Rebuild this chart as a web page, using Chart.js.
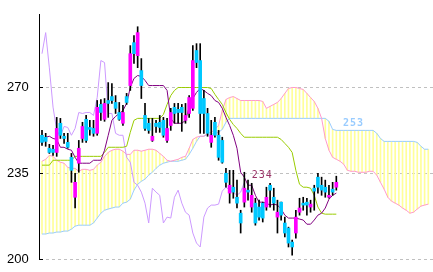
<!DOCTYPE html>
<html lang="en">
<head>
<meta charset="UTF-8">
<title>Ichimoku Chart</title>
<script src="https://cdn.jsdelivr.net/npm/chart.js"></script>
<style>
    body { margin: 0; background: #fff; }
    #wrap { width: 433px; height: 272px; }
</style>
</head>
<body>
<div id="wrap"><canvas id="chart" width="433" height="272"></canvas></div>
<script>
// candles, one per period (0..80)
const opens = [
    250.5, 249.7, 245.2, 244.8, 243.5, 255.4, 250.1, 247.6, 241.5, 225.2,
    239.1, 249.2, 257.0, 253.7, 253.3, 251.3, 263.1, 257.0, 264.7, 266.3,
    263.9, 259.8, 255.4, 266.3, 270.8, 288.3, 283.0, 276.9, 258.6, 255.4,
    248.4, 255.4, 255.8, 256.6, 248.4, 254.5, 261.9, 261.1, 261.9, 256.6,
    259.4, 261.5, 285.1, 281.0, 265.5, 259.4, 247.6, 255.8, 250.5, 248.4,
    235.0, 226.9, 229.3, 225.2, 218.7, 223.2, 228.1, 221.2, 222.8, 221.2,
    222.8, 221.2, 230.1, 225.2, 217.1, 223.2, 214.7, 212.6, 206.9, 210.6,
    219.1, 222.8, 223.2, 221.2, 228.9, 233.4, 230.1, 229.3, 225.2, 228.5,
    229.3
];
const closes = [
    247.6, 248.0, 243.5, 243.5, 253.3, 250.5, 249.2, 245.6, 236.2, 231.3,
    245.2, 254.1, 248.4, 252.9, 251.3, 261.9, 259.8, 263.5, 263.5, 264.7,
    261.5, 257.0, 259.8, 263.9, 283.8, 283.8, 292.4, 270.8, 253.3, 252.5,
    250.1, 254.1, 253.7, 250.5, 253.3, 259.8, 259.4, 259.8, 259.8, 258.6,
    265.9, 281.0, 280.2, 259.4, 259.4, 251.3, 250.5, 250.5, 241.5, 239.5,
    231.3, 230.1, 227.3, 222.8, 214.7, 228.9, 227.3, 226.0, 214.7, 217.1,
    216.7, 225.2, 228.1, 222.8, 219.1, 217.9, 210.6, 206.5, 204.9, 217.1,
    220.8, 222.0, 222.0, 222.4, 227.7, 229.3, 228.1, 227.3, 226.0, 227.3,
    231.3
];
const highs = [
    252.5, 251.3, 246.8, 246.4, 257.8, 257.4, 251.3, 251.3, 243.1, 235.0,
    248.4, 255.8, 258.6, 256.6, 256.6, 264.7, 265.1, 265.5, 272.0, 271.6,
    266.7, 263.9, 262.7, 267.6, 287.1, 291.2, 294.8, 281.8, 263.5, 257.4,
    257.4, 256.6, 258.6, 257.8, 257.4, 261.5, 263.5, 263.5, 263.1, 263.5,
    266.7, 287.1, 287.9, 287.9, 268.8, 261.5, 256.6, 257.8, 252.5, 249.7,
    237.0, 236.2, 236.2, 232.2, 219.9, 235.4, 232.2, 230.9, 224.8, 224.0,
    223.2, 229.3, 230.9, 228.9, 224.0, 223.2, 217.1, 213.0, 207.7, 219.9,
    224.8, 225.2, 224.8, 224.0, 230.1, 235.0, 233.4, 232.2, 230.1, 231.3,
    233.8
];
const lows = [
    246.4, 246.0, 243.1, 242.3, 241.9, 249.2, 247.2, 245.2, 231.3, 220.8,
    235.4, 247.6, 247.6, 250.5, 250.1, 250.5, 256.6, 256.2, 257.8, 263.5,
    259.4, 256.6, 254.5, 263.1, 268.8, 279.8, 278.1, 265.5, 252.5, 251.3,
    248.0, 251.7, 251.7, 249.7, 247.6, 252.5, 255.4, 255.4, 252.1, 255.4,
    257.8, 260.6, 278.1, 251.3, 251.3, 250.1, 245.6, 249.7, 240.3, 239.1,
    229.3, 222.8, 224.8, 220.8, 210.6, 221.2, 224.0, 219.1, 213.8, 215.9,
    215.1, 219.9, 221.2, 219.9, 210.6, 215.9, 209.0, 204.9, 201.6, 208.5,
    217.9, 219.9, 217.9, 219.1, 219.9, 226.9, 226.0, 225.2, 224.8, 226.0,
    228.1
];

// conversion line (0..80)
const tenkan = [
    247.2, 249.7, 250.1, 249.2, 248.8, 245.6, 245.6, 244.8, 244.4, 241.5,
    239.1, 239.1, 239.1, 239.1, 240.3, 240.3, 240.3, 244.4, 250.5, 256.6,
    258.2, 259.4, 260.6, 263.5, 270.0, 273.7, 274.9, 274.5, 272.9, 270.8,
    270.8, 270.8, 270.8, 270.8, 268.8, 257.4, 255.4, 255.4, 255.4, 256.6,
    261.9, 265.5, 268.0, 269.6, 268.8, 267.6, 266.7, 264.7, 263.9, 261.5,
    257.8, 254.5, 250.5, 245.2, 235.4, 233.4, 230.1, 230.1, 226.0, 223.2,
    223.2, 222.8, 222.0, 222.4, 222.0, 220.4, 217.9, 216.7, 216.7, 216.7,
    216.3, 215.9, 214.2, 214.2, 215.9, 217.9, 218.7, 220.8, 224.4, 226.0,
    226.9
];
// base line (0..80)
const kijun = [
    238.3, 238.3, 238.3, 240.3, 240.3, 240.3, 240.3, 240.3, 240.3, 241.9,
    241.9, 241.9, 241.9, 241.9, 241.9, 241.9, 241.9, 243.5, 245.6, 245.6,
    245.6, 245.6, 245.6, 246.0, 251.7, 256.6, 257.4, 257.4, 257.4, 257.4,
    257.4, 257.4, 257.4, 259.0, 263.1, 266.7, 268.8, 270.0, 270.0, 270.0,
    270.0, 270.0, 270.0, 270.0, 270.0, 270.0, 269.6, 267.2, 265.1, 263.1,
    259.8, 257.0, 254.9, 253.3, 251.3, 249.7, 249.7, 249.7, 249.7, 249.7,
    249.7, 249.7, 249.7, 249.7, 249.7, 248.8, 247.2, 245.6, 243.5, 236.2,
    230.5, 229.3, 229.3, 228.9, 226.0, 221.2, 218.7, 218.3, 218.3, 218.3,
    218.3
];
// lagging span (0..55)
const chikou = [
    283.8, 292.4, 278.0, 262.0, 252.5, 250.1, 254.1, 253.7, 250.5, 253.3,
    259.8, 259.4, 259.8, 259.8, 258.6, 265.9, 281.0, 280.2, 259.4, 259.4,
    251.3, 250.5, 250.5, 241.5, 239.5, 231.3, 230.1, 227.3, 222.8, 214.7,
    228.9, 227.3, 226.0, 214.7, 217.1, 216.7, 225.2, 228.1, 222.8, 219.1,
    217.9, 210.6, 206.5, 204.9, 217.1, 220.8, 222.0, 222.0, 222.4, 227.7,
    229.3, 228.1, 227.3, 226.0, 227.3, 231.3
];
// leading spans (0..105)
const senkouA = [
    239.9, 240.7, 242.3, 241.9, 240.3, 239.5, 239.1, 237.4, 237.0, 237.0,
    235.8, 236.6, 236.6, 236.2, 236.6, 238.3, 239.5, 241.9, 243.5, 244.4,
    244.8, 244.8, 244.0, 242.7, 242.7, 244.4, 244.4, 244.0, 244.4, 244.8,
    244.8, 244.4, 243.1, 241.9, 240.3, 239.9, 240.3, 240.7, 241.5, 241.9,
    245.2, 248.8, 249.7, 250.1, 250.1, 251.3, 251.7, 252.9, 254.5, 260.6,
    265.1, 265.9, 266.3, 265.5, 264.7, 264.7, 264.7, 264.7, 264.7, 264.7,
    264.3, 261.5, 262.3, 263.1, 263.9, 265.5, 267.6, 269.6, 270.0, 270.0,
    269.6, 269.2, 267.6, 265.9, 264.3, 261.5, 257.4, 249.2, 244.4, 241.5,
    240.7, 239.9, 238.7, 236.2, 235.8, 235.8, 235.4, 235.4, 235.4, 235.8,
    235.8, 234.2, 231.3, 228.5, 225.2, 223.6, 222.8, 222.0, 220.8, 219.9,
    218.7, 219.1, 220.4, 221.6, 222.0, 222.4
];
const senkouB = [
    210.2, 210.2, 210.6, 210.6, 211.0, 211.0, 211.4, 211.4, 212.2, 213.4,
    213.8, 213.8, 213.8, 213.8, 214.7, 216.7, 218.7, 219.9, 220.4, 220.8,
    221.2, 221.2, 222.8, 223.2, 224.4, 228.1, 230.5, 231.7, 232.6, 234.2,
    235.4, 237.0, 238.3, 239.1, 239.5, 239.9, 239.9, 239.9, 240.3, 240.7,
    242.7, 245.2, 248.0, 250.1, 250.1, 250.9, 250.9, 251.3, 251.7, 252.9,
    255.8, 257.4, 257.4, 257.4, 257.4, 257.4, 257.4, 257.4, 257.4, 257.4,
    257.4, 257.4, 257.4, 257.4, 257.4, 257.4, 257.4, 257.4, 257.4, 257.4,
    257.4, 257.4, 257.4, 257.4, 257.4, 257.4, 257.4, 257.4, 256.2, 252.9,
    252.5, 252.5, 252.5, 252.5, 252.5, 252.5, 252.5, 252.5, 252.5, 252.5,
    252.5, 251.3, 249.2, 248.0, 248.0, 248.0, 248.0, 248.0, 248.0, 248.0,
    248.0, 248.0, 247.6, 246.0, 244.8, 244.8
];

const yTicks = [200, 235, 270];

// value labels written on the chart
const notes = [
    { text: '253', at: 81.8, value: 255.4, color: '#99ccff', font: 'bold 10px "DejaVu Sans Mono"' },
    { text: '234', at: 57.0, value: 234.0, color: '#993366', font: '10px "DejaVu Sans Mono"' }
];

const pts = arr => arr.map((v, i) => ({ x: i, y: v }));
const line = (data, color, order) => ({
    type: 'line', data: pts(data), borderColor: color, borderWidth: 1,
    pointRadius: 0, tension: 0, fill: false, order: order
});

const decor = {
    id: 'decor',
    afterDraw(chart) {
        const { ctx, chartArea, scales } = chart;
        ctx.save();
        ctx.strokeStyle = '#000';
        ctx.lineWidth = 1;
        yTicks.forEach(v => {
            const py = Math.round(scales.y.getPixelForValue(v) - 0.5) + 0.5;
            ctx.beginPath();
            ctx.moveTo(chartArea.left, py);
            ctx.lineTo(chartArea.left + 4, py);
            ctx.stroke();
        });
        ctx.textBaseline = 'middle';
        ctx.letterSpacing = '1px';
        notes.forEach(n => {
            ctx.font = n.font;
            ctx.fillStyle = n.color;
            ctx.fillText(n.text, scales.x.getPixelForValue(n.at), scales.y.getPixelForValue(n.value));
        });
        ctx.restore();
    }
};

const ctx = document.getElementById('chart').getContext('2d');
new Chart(ctx, {
    type: 'bar',
    data: {
        datasets: [
            {
                type: 'bar', order: 10, grouped: false, barThickness: 1,
                backgroundColor: '#ffff99',
                data: senkouA.map((a, i) => ({ x: i, y: [a, senkouB[i]] }))
            },
            line(senkouA, '#ff99cc', 9),
            line(senkouB, '#99ccff', 9),
            line(chikou, '#cc99ff', 8),
            line(kijun, '#99cc00', 7),
            line(tenkan, '#800080', 6),
            {
                type: 'bar', order: 5, grouped: false, barThickness: 1,
                backgroundColor: '#000',
                data: highs.map((h, i) => ({ x: i, y: [lows[i], h] }))
            },
            {
                type: 'bar', order: 4, grouped: false, barThickness: 3,
                backgroundColor: opens.map((o, i) => closes[i] >= o ? '#ff00ff' : '#00c8ff'),
                data: opens.map((o, i) => ({ x: i, y: [o, closes[i]] }))
            }
        ]
    },
    options: {
        responsive: false,
        devicePixelRatio: 1,
        animation: false,
        events: [],
        layout: { padding: { top: 14, bottom: 13, left: 7, right: 0 } },
        plugins: { legend: { display: false }, tooltip: { enabled: false } },
        scales: {
            x: {
                type: 'linear', display: false, offset: false,
                min: -0.815, max: 106.28
            },
            y: {
                min: 200, max: 300,
                afterBuildTicks: axis => { axis.ticks = yTicks.map(v => ({ value: v })); },
                afterFit: axis => { axis.width = 32; },
                grid: { color: '#c0c0c0', lineWidth: 1, drawTicks: false },
                border: { display: true, color: '#000', width: 1, dash: [3, 3] },
                ticks: {
                    color: '#000', padding: 0, crossAlign: 'far',
                    font: { family: '"Liberation Sans Narrow", "Liberation Sans"', size: 13 }
                }
            }
        }
    },
    plugins: [decor]
});
</script>
</body>
</html>
